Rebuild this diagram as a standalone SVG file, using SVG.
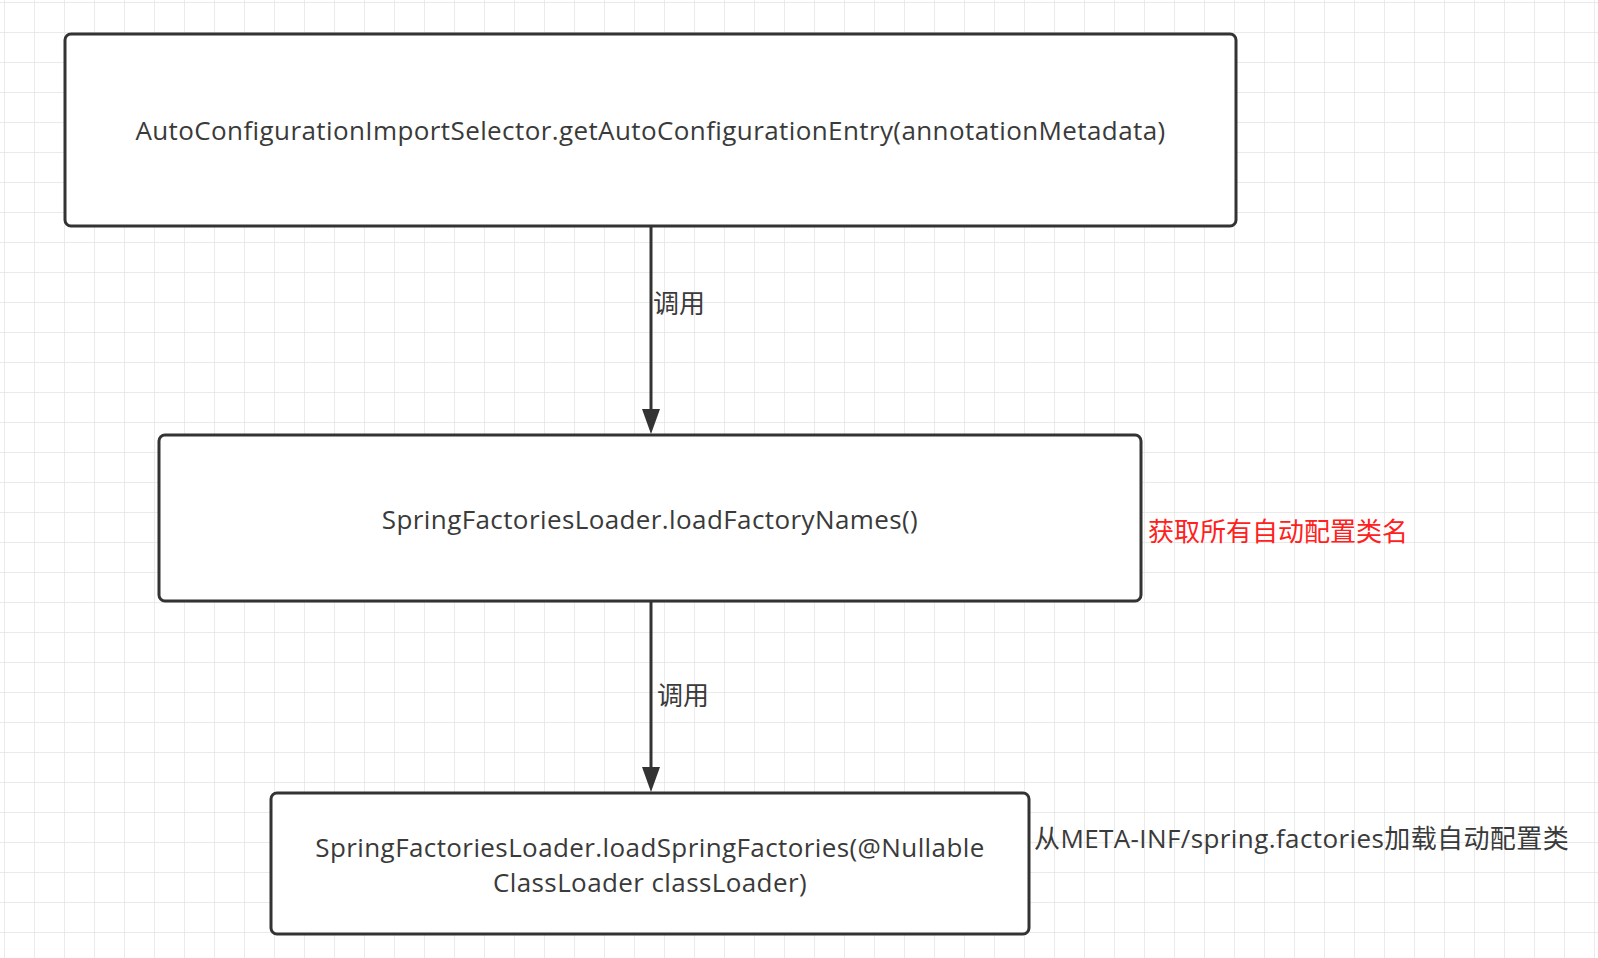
<svg xmlns="http://www.w3.org/2000/svg" width="1598" height="958" viewBox="0 0 1598 958">
  <defs>
    <pattern id="grid" x="4" y="2" width="30" height="30" patternUnits="userSpaceOnUse">
      <path d="M0,0 H30 M0,0 V30" fill="none" stroke="#e3e3e3" stroke-width="1.4"/>
    </pattern>
    <marker id="arrow" viewBox="0 0 25 18" refX="13" refY="9" markerWidth="25" markerHeight="18" markerUnits="userSpaceOnUse" orient="auto">
      <path d="M0,0 L25,9 L0,18 Z" fill="#333333"/>
    </marker>
    <style>
      .box { fill: #ffffff; stroke: #333333; stroke-width: 3; }
      .t { font-family: "Open Sans", "Noto Sans CJK SC", sans-serif; font-size: 26px; letter-spacing: 0.4px; fill: #3a3a3a; }
      .cjk { font-family: "Open Sans", "Noto Sans CJK SC", sans-serif; font-size: 26px; fill: #3a3a3a; }
      .sp { letter-spacing: 0.4px; }
      .red { fill: #ff2020; }
      .edge { fill: none; stroke: #333333; stroke-width: 3; }
    </style>
  </defs>
  <rect x="0" y="0" width="1598" height="958" fill="#ffffff"/>
  <rect x="0" y="0" width="1598" height="958" fill="url(#grid)"/>

  <g id="connectors">
    <path class="edge" d="M651,226 V422" marker-end="url(#arrow)"/>
    <path class="edge" d="M651,601 V780" marker-end="url(#arrow)"/>
    <text class="cjk" x="653" y="313">调用</text>
    <text class="cjk" x="657" y="705">调用</text>
  </g>

  <g id="node-auto-config">
    <rect class="box" x="65" y="34" width="1171" height="192" rx="6"/>
    <text class="t" x="650.5" y="140" text-anchor="middle">AutoConfigurationImportSelector.getAutoConfigurationEntry(annotationMetadata)</text>
  </g>

  <g id="node-load-factory-names">
    <rect class="box" x="159" y="435" width="982" height="166" rx="6"/>
    <text class="t" x="650" y="529" text-anchor="middle">SpringFactoriesLoader.loadFactoryNames()</text>
  </g>

  <g id="node-load-spring-factories">
    <rect class="box" x="271" y="793" width="758" height="141" rx="6"/>
    <text class="t" x="650" y="856.5" text-anchor="middle">SpringFactoriesLoader.loadSpringFactories(@Nullable</text>
    <text class="t" x="650" y="891.5" text-anchor="middle">ClassLoader classLoader)</text>
  </g>

  <g id="note-red">
    <text class="cjk red" x="1148" y="541">获取所有自动配置类名</text>
  </g>

  <g id="note-gray">
    <text class="cjk sp" x="1034" y="848">从META-INF/spring.factories加载自动配置类</text>
  </g>
</svg>
